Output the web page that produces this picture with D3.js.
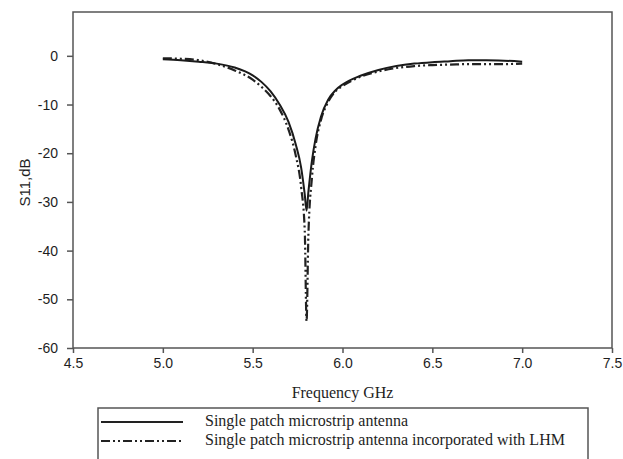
<!DOCTYPE html>
<html>
<head>
<meta charset="utf-8">
<script src="https://cdn.jsdelivr.net/npm/d3@7"></script>
<style>
  body { margin: 0; background: #fff; }
  svg { display: block; }
</style>
</head>
<body>
<div id="chart"></div>
<script>
// S11 vs frequency – single patch antenna with and without LHM

const freqSolid = [5.00, 5.10, 5.20, 5.30, 5.40, 5.50, 5.55, 5.60, 5.65, 5.70, 5.74, 5.77, 5.79, 5.80,
  5.81, 5.83, 5.85, 5.88, 5.92, 5.96, 6.00, 6.10, 6.20, 6.30, 6.40, 6.50, 6.60, 6.70, 6.80, 6.90, 7.00];
const s11Solid = [-0.7, -0.9, -1.2, -1.6, -2.4, -4.0, -5.4, -7.3, -10.0, -13.6, -18.2, -23.0, -28.5, -31.8,
  -28.0, -21.5, -17.0, -12.5, -9.0, -7.1, -5.9, -4.1, -2.9, -2.1, -1.6, -1.3, -1.1, -0.9, -0.9, -1.0, -1.2];

const freqLhm = [5.00, 5.10, 5.20, 5.30, 5.40, 5.50, 5.55, 5.60, 5.65, 5.70, 5.74, 5.77, 5.79, 5.80,
  5.81, 5.83, 5.85, 5.88, 5.92, 5.96, 6.00, 6.10, 6.20, 6.30, 6.40, 6.50, 6.60, 6.70, 6.80, 6.90, 7.00];
const s11Lhm = [-0.5, -0.6, -0.9, -1.7, -3.0, -4.9, -6.4, -8.3, -11.0, -15.2, -20.5, -27.0, -36.0, -54.5,
  -37.0, -25.0, -18.5, -13.2, -9.5, -7.3, -6.2, -4.3, -3.2, -2.5, -2.1, -1.9, -1.8, -1.7, -1.7, -1.7, -1.6];

const xTicks = [4.5, 5.0, 5.5, 6.0, 6.5, 7.0, 7.5];
const yTicks = [0, -10, -20, -30, -40, -50, -60];

const seriesNames = [
  "Single patch microstrip antenna",
  "Single patch microstrip antenna incorporated with LHM"
];

const width = 623;
const height = 459;
const margin = { top: 12, right: 11, bottom: 111, left: 73 };

const svg = d3.select("#chart")
  .append("svg")
  .attr("width", width)
  .attr("height", height);

const x = d3.scaleLinear()
  .domain([4.5, 7.5])
  .range([margin.left, width - margin.right]);

const y = d3.scaleLinear()
  .domain([-60, 9])
  .range([height - margin.bottom, margin.top]);

const axisColor = "#555";
const textColor = "#1e1e1e";

// frame
svg.append("rect")
  .attr("x", margin.left)
  .attr("y", margin.top)
  .attr("width", width - margin.right - margin.left)
  .attr("height", height - margin.bottom - margin.top)
  .attr("fill", "none")
  .attr("stroke", axisColor)
  .attr("stroke-width", 1.5);

// axes (plain hyphen for negatives, as in the source figure)
const xAxis = svg.append("g")
  .attr("transform", `translate(0,${height - margin.bottom})`)
  .call(d3.axisBottom(x).tickValues(xTicks).tickFormat(d => d.toFixed(1)).tickSize(5).tickPadding(5));

const yAxis = svg.append("g")
  .attr("transform", `translate(${margin.left},0)`)
  .call(d3.axisLeft(y).tickValues(yTicks).tickFormat(d => String(d)).tickSize(6).tickPadding(9));

[xAxis, yAxis].forEach(g => {
  g.select(".domain").remove();
  g.selectAll("line").attr("stroke", axisColor).attr("stroke-width", 1.5);
  g.selectAll("text")
    .attr("fill", textColor)
    .style("font-family", "'Liberation Sans', Arial, sans-serif")
    .style("font-size", "14px");
});

// axis titles
svg.append("text")
  .attr("transform", `translate(24,${y(-26)}) rotate(-90)`)
  .attr("text-anchor", "middle")
  .attr("dominant-baseline", "central")
  .attr("fill", textColor)
  .style("font-family", "'Liberation Sans', Arial, sans-serif")
  .style("font-size", "15px")
  .text("S11,dB");

svg.append("text")
  .attr("x", x(6.0))
  .attr("y", 398)
  .attr("text-anchor", "middle")
  .attr("fill", textColor)
  .style("font-family", "'Liberation Serif', 'Times New Roman', serif")
  .style("font-size", "16px")
  .text("Frequency GHz");

// curves
const line = d3.line()
  .x(d => x(d[0]))
  .y(d => y(d[1]))
  .curve(d3.curveMonotoneX);

const lhmDash = "9 3 2 3 2 3";

svg.append("path")
  .datum(d3.zip(freqLhm, s11Lhm))
  .attr("fill", "none")
  .attr("stroke", "#222")
  .attr("stroke-width", 2.2)
  .attr("stroke-dasharray", lhmDash)
  .attr("d", line);

svg.append("path")
  .datum(d3.zip(freqSolid, s11Solid))
  .attr("fill", "none")
  .attr("stroke", "#1a1a1a")
  .attr("stroke-width", 2)
  .attr("d", line);

// legend (box runs off the bottom edge)
const legend = svg.append("g");
legend.append("rect")
  .attr("x", 98)
  .attr("y", 408)
  .attr("width", 490)
  .attr("height", 70)
  .attr("fill", "none")
  .attr("stroke", axisColor)
  .attr("stroke-width", 1.5);

const legendRows = [
  { name: seriesNames[0], dash: null, y: 422 },
  { name: seriesNames[1], dash: lhmDash, y: 441 }
];

legendRows.forEach(r => {
  legend.append("line")
    .attr("x1", 101)
    .attr("x2", 183)
    .attr("y1", r.y)
    .attr("y2", r.y)
    .attr("stroke", "#222")
    .attr("stroke-width", 2)
    .attr("stroke-dasharray", r.dash);
  legend.append("text")
    .attr("x", 205)
    .attr("y", r.y + 4)
    .attr("fill", textColor)
    .style("font-family", "'Liberation Serif', 'Times New Roman', serif")
    .style("font-size", "16px")
    .text(r.name);
});
</script>
</body>
</html>
